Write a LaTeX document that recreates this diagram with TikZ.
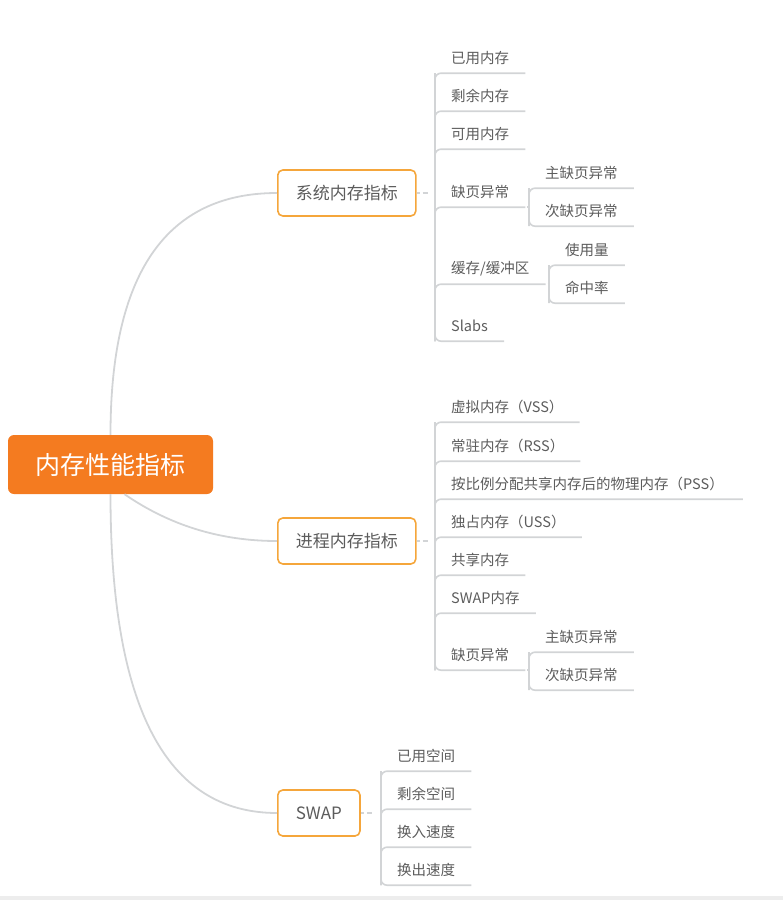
\documentclass[tikz,border=0pt]{standalone}
\usepackage{fontspec}
\setmainfont{Noto Sans CJK SC}
\definecolor{rootfill}{HTML}{F47B20}
\definecolor{boxline}{HTML}{F5A63B}
\definecolor{linkgray}{HTML}{D2D4D6}
\definecolor{txtgray}{HTML}{5C5C5C}
\begin{document}
\begin{tikzpicture}[x=1pt, y=-1pt,
  root/.style={fill=rootfill, text=white, rounded corners=6pt, font=\fontsize{25}{30}\selectfont, minimum height=59pt, inner xsep=27.5pt},
  topic/.style={draw=boxline, line width=1.6pt, fill=white, rounded corners=5pt, text=txtgray, font=\fontsize{17}{20}\selectfont, minimum height=46pt, inner xsep=18pt, anchor=west},
  leaf/.style={anchor=west, inner xsep=16pt, inner ysep=0pt, minimum height=30pt, text=txtgray, font=\fontsize{14.5}{17}\selectfont},
  link/.style={draw=linkgray, line width=1.8pt},
  stem/.style={draw=linkgray, line width=1.6pt, rounded corners=6pt},
  tick/.style={draw=linkgray, line width=1.6pt, dash pattern=on 3pt off 3pt on 5pt off 9pt},
  subtick/.style={draw=linkgray, line width=1.6pt, dash pattern=on 0pt off 2pt on 5pt off 9pt}]
  \useasboundingbox (0,0) rectangle (783,900);
  \fill[black!7] (0,896) rectangle (783,900);

  \node[root] (root) at (110.5,464.5) {内存性能指标};
  \node[topic] (b1) at (277,193) {系统内存指标};
  \node[topic] (b2) at (277,541) {进程内存指标};
  \node[topic] (b3) at (277,813) {SWAP};

  \draw[link] (root.north) .. controls +(0,-161) and +(-111,0) .. (b1.west);
  \draw[link] ([xshift=14pt]root.south) .. controls +(45,31) and +(-57,0) .. (b2.west);
  \draw[link] (root.south) .. controls +(0,213) and +(-111,0) .. (b3.west);

  \node[leaf] (s1) at (435,58) {已用内存};
  \node[leaf] (s2) at (435,96) {剩余内存};
  \node[leaf] (s3) at (435,134) {可用内存};
  \node[leaf] (s4) at (435,192) {缺页异常};
  \node[leaf] (s41) at (529,173) {主缺页异常};
  \node[leaf] (s42) at (529,211) {次缺页异常};
  \node[leaf] (s5) at (435,269) {缓存/缓冲区};
  \node[leaf] (s51) at (549,250) {使用量};
  \node[leaf] (s52) at (549,288) {命中率};
  \node[leaf] (s6) at (435,326) {Slabs};

  \draw[tick] (b1.east) -- (b1.east -| s1.west);
  \foreach \n in {s1,s2,s3,s4,s5}
    \draw[stem] (s6.south west) |- (\n.south east);
  \draw[stem] (s1.south west) |- (s6.south east);
  \draw[subtick] (s4.south east) -- (s4.south east -| s41.west);
  \draw[stem] (s42.south west) |- (s41.south east);
  \draw[stem] (s41.south west) |- (s42.south east);
  \draw[subtick] (s5.south east) -- (s5.south east -| s51.west);
  \draw[stem] (s52.south west) |- (s51.south east);
  \draw[stem] (s51.south west) |- (s52.south east);

  \node[leaf] (p1) at (435,407) {虚拟内存（VSS）};
  \node[leaf] (p2) at (435,446) {常驻内存（RSS）};
  \node[leaf, inner xsep=19pt] (p3) at (432,484) {按比例分配共享内存后的物理内存（PSS）};
  \node[leaf] (p4) at (435,522) {独占内存（USS）};
  \node[leaf] (p5) at (435,560) {共享内存};
  \node[leaf] (p6) at (435,598) {SWAP内存};
  \node[leaf] (p7) at (435,655) {缺页异常};
  \node[leaf] (p71) at (529,637) {主缺页异常};
  \node[leaf] (p72) at (529,675) {次缺页异常};

  \draw[tick] (b2.east) -- (b2.east -| p1.west);
  \foreach \n in {p1,p2,p3,p4,p5,p6}
    \draw[stem] (p7.south west) |- (\n.south east);
  \draw[stem] (p1.south west) |- (p7.south east);
  \draw[subtick] (p7.south east) -- (p7.south east -| p71.west);
  \draw[stem] (p72.south west) |- (p71.south east);
  \draw[stem] (p71.south west) |- (p72.south east);

  \node[leaf] (w1) at (381,756) {已用空间};
  \node[leaf] (w2) at (381,794) {剩余空间};
  \node[leaf] (w3) at (381,832) {换入速度};
  \node[leaf] (w4) at (381,870) {换出速度};

  \draw[tick] (b3.east) -- (b3.east -| w1.west);
  \foreach \n in {w1,w2,w3}
    \draw[stem] (w4.south west) |- (\n.south east);
  \draw[stem] (w1.south west) |- (w4.south east);
\end{tikzpicture}
\end{document}
